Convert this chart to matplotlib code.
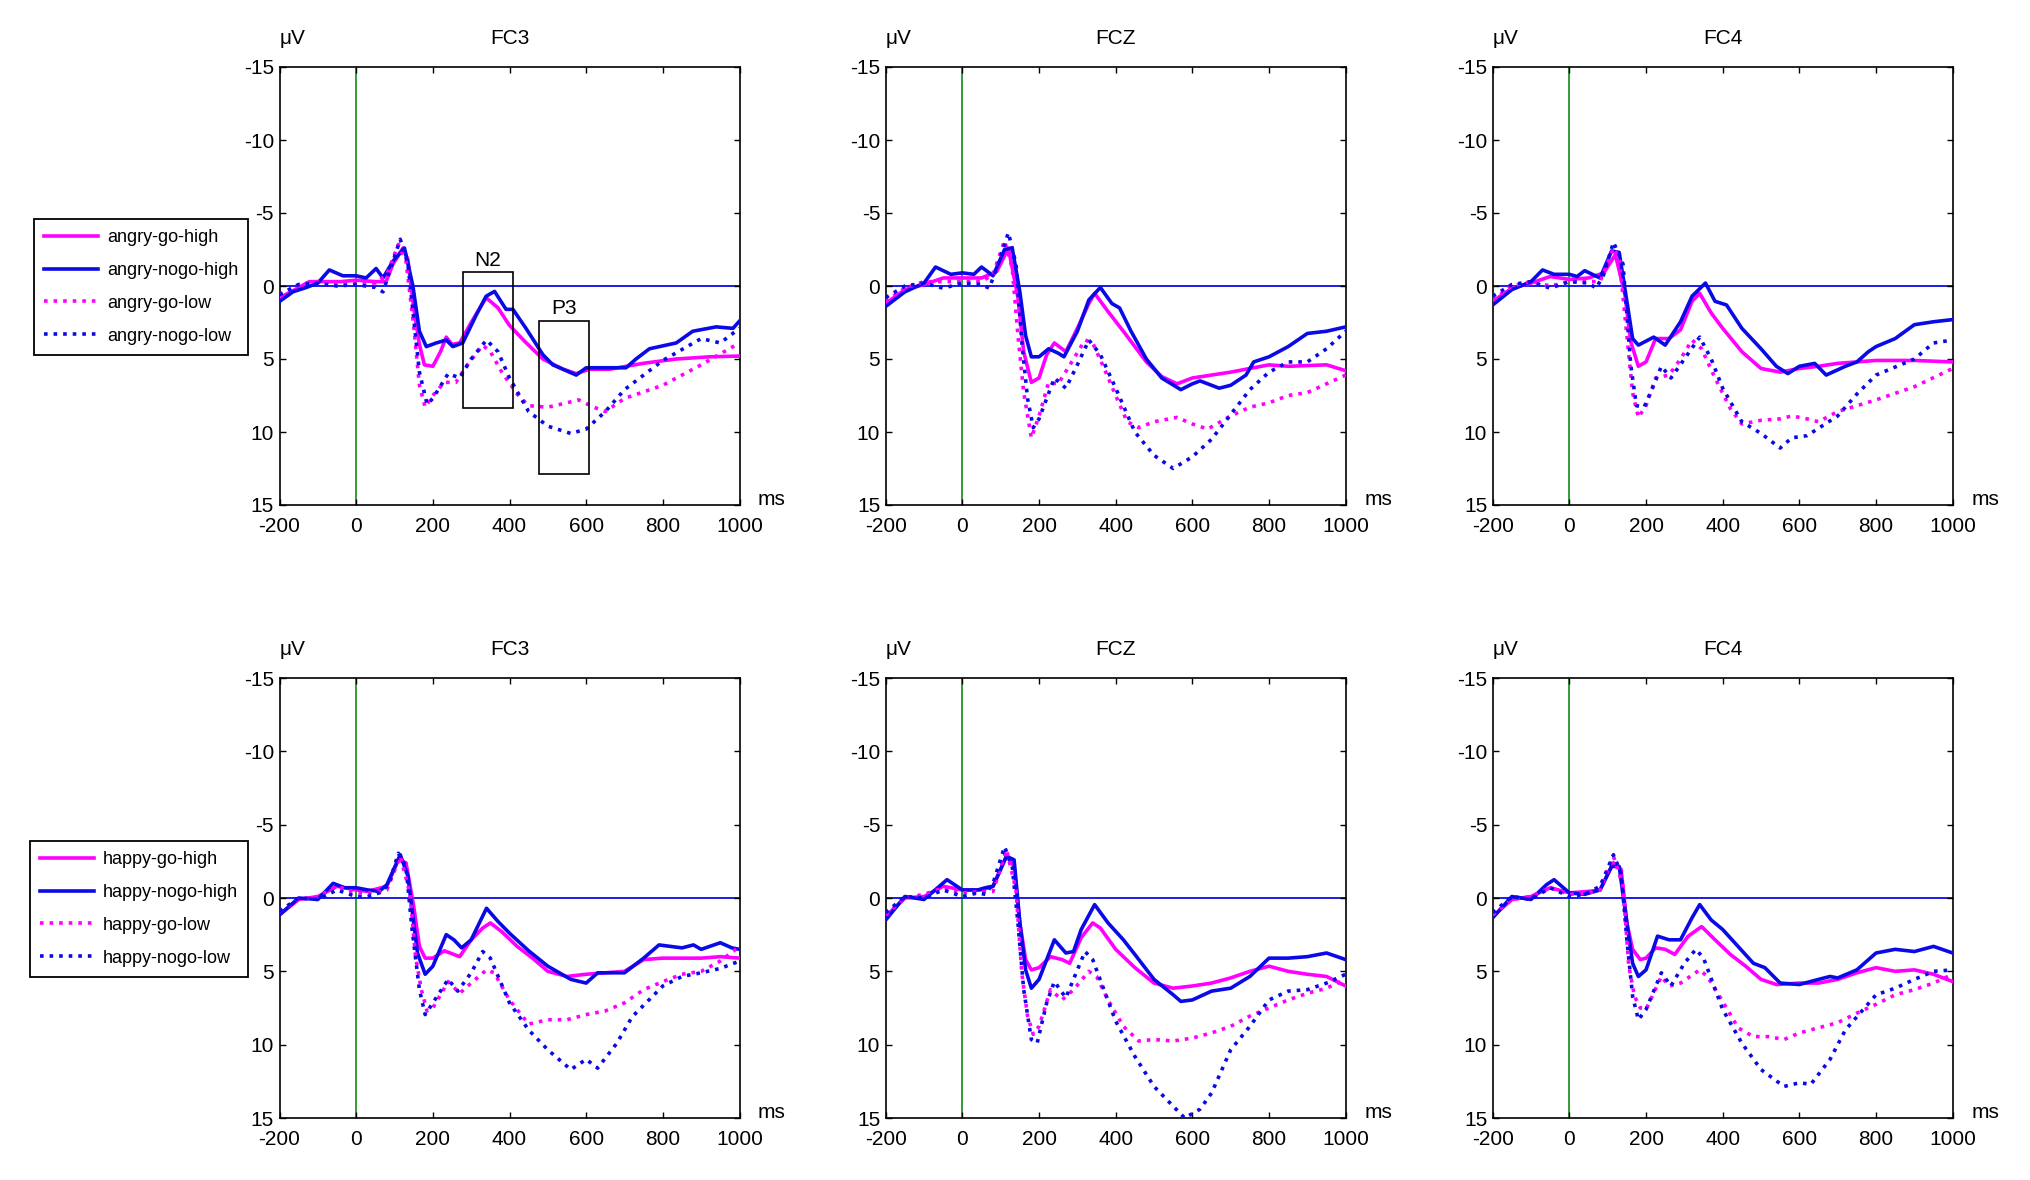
import matplotlib
matplotlib.use("Agg")
import matplotlib.pyplot as plt
from matplotlib.patches import Rectangle

plt.rcParams['font.family'] = ['Liberation Sans', 'DejaVu Sans']
plt.rcParams['axes.unicode_minus'] = False

# ---------------- data (time ms, amplitude uV) ----------------
A_FC3_GO_HIGH = [(-200,0.8),(-170,0.4),(-122,-0.3),(-80,-0.3),(-40,-0.3),(0,-0.4),(50,-0.3),(78,-0.3),(96,-1.5),(122,-2.6),(135,-1.8),(150,1.5),(165,4.0),(178,5.4),(200,5.5),(220,4.5),(235,3.5),(250,4.0),(270,3.9),(300,2.5),(339,0.8),(370,1.5),(400,2.7),(440,3.8),(487,5.0),(540,5.7),(574,6.0),(609,5.7),(661,5.7),(748,5.3),(835,5.0),(922,4.85),(1000,4.8)]
A_FC3_NOGO_HIGH = [(-200,1.06),(-165,0.4),(-130,0.1),(-100,-0.2),(-70,-1.1),(-35,-0.7),(0,-0.7),(26,-0.55),(52,-1.2),(70,-0.55),(96,-1.7),(126,-2.6),(148,0.0),(165,3.1),(183,4.15),(209,3.9),(235,3.7),(252,4.15),(278,3.9),(313,2.0),(339,0.7),(361,0.37),(391,1.6),(409,1.6),(443,2.9),(487,4.7),(513,5.4),(548,5.8),(574,6.1),(600,5.6),(704,5.6),(730,5.0),(765,4.3),(835,3.9),(878,3.1),(939,2.8),(983,2.9),(1000,2.4)]
A_FC3_GO_LOW = [(-200,0.6),(-150,-0.1),(-100,-0.3),(-50,-0.1),(0,-0.2),(50,-0.2),(80,-0.8),(110,-2.85),(130,-1.7),(150,2.7),(165,6.8),(180,8.3),(200,7.5),(230,6.6),(260,6.6),(290,5.4),(330,4.05),(350,4.5),(380,5.9),(420,7.4),(450,8.2),(500,8.3),(550,8.0),(580,7.8),(620,8.3),(650,8.6),(700,7.7),(800,6.8),(900,5.4),(1000,3.9)]
A_FC3_NOGO_LOW = [(-200,0.6),(-150,-0.1),(-100,-0.2),(-50,0.0),(0,-0.1),(50,0.1),(70,0.4),(90,-1.2),(115,-3.2),(135,-1.5),(150,2.2),(165,5.9),(185,8.1),(200,7.7),(240,6.0),(270,6.3),(300,5.0),(340,3.7),(370,4.5),(400,6.3),(450,8.6),(500,9.6),(560,10.1),(600,9.8),(650,8.6),(700,7.1),(800,5.1),(900,3.6),(950,3.9),(1000,2.9)]

A_FCZ_GO_HIGH = [(-200,1.2),(-150,0.25),(-100,-0.1),(-50,-0.55),(0,-0.55),(50,-0.55),(90,-1.0),(120,-2.6),(145,0.8),(160,4.5),(180,6.6),(200,6.3),(220,4.7),(240,3.9),(270,4.5),(300,2.9),(330,1.2),(345,0.5),(380,1.75),(420,3.1),(480,5.2),(520,6.2),(560,6.7),(600,6.3),(650,6.1),(700,5.9),(750,5.65),(800,5.4),(850,5.5),(950,5.4),(1000,5.8)]
A_FCZ_NOGO_HIGH = [(-200,1.4),(-150,0.4),(-100,-0.2),(-70,-1.3),(-30,-0.8),(0,-0.9),(30,-0.8),(50,-1.3),(80,-0.7),(110,-2.5),(130,-2.6),(150,0.4),(165,3.4),(180,4.85),(200,4.85),(225,4.3),(250,4.6),(265,4.85),(300,3.1),(330,0.95),(360,0.1),(390,1.2),(410,1.5),(440,3.1),(480,5.0),(520,6.3),(570,7.1),(600,6.7),(620,6.5),(670,7.0),(700,6.8),(740,6.1),(760,5.2),(800,4.85),(850,4.15),(900,3.25),(950,3.1),(1000,2.8)]
A_FCZ_GO_LOW = [(-200,1.05),(-150,0.15),(-100,-0.3),(-50,-0.3),(0,-0.3),(50,-0.3),(80,-0.8),(110,-3.1),(130,-1.25),(145,3.4),(160,7.3),(180,10.4),(200,8.9),(225,6.6),(250,6.7),(290,5.0),(320,3.7),(340,3.9),(370,5.65),(400,7.5),(430,9.3),(460,9.7),(500,9.3),(560,9.0),(600,9.45),(640,9.8),(700,8.9),(750,8.3),(800,8.0),(850,7.5),(900,7.3),(1000,6.1)]
A_FCZ_NOGO_LOW = [(-200,0.8),(-150,0.0),(-100,-0.2),(-50,0.15),(0,-0.2),(50,-0.1),(70,0.15),(90,-1.25),(120,-3.65),(140,-1.5),(155,3.8),(170,7.7),(185,9.7),(200,9.1),(240,6.3),(270,7.0),(300,5.4),(330,3.7),(360,4.7),(400,7.0),(450,10.0),(500,11.6),(550,12.5),(600,11.7),(650,10.5),(700,8.8),(750,7.1),(800,5.9),(850,5.2),(900,5.2),(950,4.3),(1000,3.1)]

A_FC4_GO_HIGH = [(-200,1.05),(-150,0.15),(-100,-0.2),(-50,-0.65),(0,-0.45),(50,-0.55),(90,-0.9),(120,-2.15),(145,0.6),(160,3.8),(180,5.5),(200,5.2),(225,3.6),(260,3.6),(290,3.0),(320,1.05),(340,0.5),(370,1.85),(400,2.9),(450,4.5),(500,5.65),(550,5.9),(600,5.65),(650,5.5),(700,5.3),(800,5.1),(900,5.1),(1000,5.2)]
A_FC4_NOGO_HIGH = [(-200,1.3),(-150,0.25),(-100,-0.3),(-70,-1.1),(-40,-0.8),(0,-0.8),(20,-0.65),(40,-1.05),(80,-0.55),(110,-2.4),(130,-2.3),(150,1.05),(165,3.6),(180,4.05),(220,3.5),(250,4.05),(290,2.45),(320,0.7),(355,-0.2),(380,1.05),(410,1.3),(450,2.9),(500,4.3),(540,5.5),(570,6.0),(600,5.5),(640,5.3),(670,6.1),(720,5.5),(750,5.2),(780,4.5),(800,4.15),(850,3.6),(900,2.65),(950,2.45),(1000,2.3)]
A_FC4_GO_LOW = [(-200,0.95),(-150,0.0),(-100,-0.3),(-50,0.0),(0,-0.3),(50,-0.3),(80,-0.3),(115,-2.6),(130,-1.9),(150,3.4),(165,7.3),(180,9.0),(200,8.2),(225,6.3),(260,6.1),(290,5.0),(320,3.7),(345,4.3),(380,6.3),(420,8.4),(450,9.45),(500,9.2),(550,9.1),(580,8.9),(620,9.1),(650,9.3),(700,8.6),(800,7.8),(900,6.9),(1000,5.65)]
A_FC4_NOGO_LOW = [(-200,0.7),(-150,-0.1),(-100,-0.3),(-50,0.15),(0,-0.3),(50,-0.2),(70,0.15),(90,-0.8),(115,-3.0),(140,-1.5),(160,5.4),(175,8.2),(195,8.3),(220,6.8),(240,5.5),(265,6.3),(300,5.0),(340,3.5),(370,5.0),(400,7.0),(450,9.3),(500,10.1),(550,11.1),(580,10.4),(620,10.25),(700,8.9),(750,7.4),(800,6.1),(900,5.0),(950,3.9),(1000,3.7)]

H_FC3_GO_HIGH = [(-200,1.15),(-150,0.1),(-100,-0.1),(-50,-0.8),(0,-0.55),(30,-0.45),(80,-0.8),(110,-2.6),(130,-2.4),(150,0.55),(165,3.3),(180,4.1),(200,4.1),(230,3.6),(270,4.0),(300,2.85),(330,2.05),(350,1.7),(380,2.3),(420,3.3),(460,4.1),(500,5.0),(550,5.35),(600,5.2),(650,5.1),(700,5.0),(750,4.2),(800,4.1),(900,4.1),(950,4.0),(1000,4.1)]
H_FC3_NOGO_HIGH = [(-200,1.15),(-150,0.0),(-100,0.1),(-60,-1.0),(-30,-0.7),(0,-0.7),(30,-0.55),(60,-0.45),(80,-0.9),(115,-2.95),(135,-1.5),(150,1.7),(160,3.75),(180,5.2),(200,4.65),(235,2.5),(255,2.85),(275,3.4),(300,2.85),(340,0.7),(370,1.6),(400,2.4),(450,3.6),(500,4.65),(560,5.55),(600,5.8),(630,5.1),(700,5.1),(750,4.1),(790,3.2),(850,3.4),(880,3.2),(900,3.5),(950,3.05),(980,3.4),(1000,3.5)]
H_FC3_GO_LOW = [(-200,0.9),(-150,0.1),(-100,-0.1),(-50,-0.8),(0,-0.35),(50,-0.35),(80,-0.55),(115,-2.85),(140,-0.35),(155,4.0),(170,6.25),(185,7.7),(200,7.5),(240,5.7),(270,6.5),(300,5.8),(340,4.9),(360,5.1),(400,6.95),(450,8.6),(500,8.3),(550,8.3),(600,7.95),(650,7.7),(700,7.15),(750,6.25),(800,5.7),(850,5.2),(900,5.0),(950,4.3),(1000,3.3)]
H_FC3_NOGO_LOW = [(-200,0.9),(-150,0.0),(-100,0.1),(-50,-0.55),(0,-0.1),(30,-0.1),(60,-0.35),(85,-0.9),(110,-3.05),(130,-2.15),(145,1.95),(165,6.25),(180,7.95),(200,7.15),(240,5.55),(265,6.35),(300,5.1),(330,3.65),(350,4.1),(400,7.15),(450,9.0),(500,10.35),(560,11.7),(600,11.0),(630,11.6),(680,9.9),(720,8.1),(800,6.0),(850,5.35),(900,5.1),(950,4.8),(1000,4.3)]

H_FCZ_GO_HIGH = [(-200,1.25),(-150,0.0),(-100,-0.1),(-50,-0.8),(0,-0.55),(50,-0.55),(80,-0.8),(115,-2.85),(135,-2.15),(150,1.7),(165,4.2),(180,4.9),(200,4.75),(230,4.0),(260,4.2),(280,4.45),(310,2.7),(340,1.7),(360,2.05),(400,3.5),(450,4.75),(500,5.8),(550,6.15),(600,6.0),(650,5.8),(700,5.45),(750,5.0),(800,4.65),(850,5.0),(900,5.2),(950,5.35),(1000,6.0)]
H_FCZ_NOGO_HIGH = [(-200,1.5),(-150,-0.1),(-100,0.1),(-60,-0.8),(-40,-1.25),(0,-0.55),(40,-0.55),(60,-0.7),(80,-0.8),(115,-2.85),(135,-2.6),(150,1.7),(165,4.9),(180,6.15),(200,5.55),(240,2.85),(270,3.75),(290,3.65),(310,2.15),(345,0.45),(380,1.7),(420,2.85),(450,3.85),(500,5.55),(550,6.6),(570,7.05),(600,6.95),(650,6.35),(700,6.15),(750,5.35),(800,4.1),(850,4.1),(900,4.0),(950,3.75),(1000,4.2)]
H_FCZ_GO_LOW = [(-200,1.15),(-150,0.0),(-100,-0.25),(-50,-0.7),(0,-0.35),(50,-0.45),(80,-0.45),(115,-3.3),(140,-0.55),(155,5.1),(170,8.05),(185,9.3),(200,8.75),(230,6.25),(260,6.95),(290,6.25),(330,5.0),(350,5.35),(380,6.95),(420,8.75),(460,9.75),(500,9.65),(550,9.75),(600,9.55),(650,9.2),(700,8.75),(750,8.05),(800,7.5),(850,6.95),(900,6.5),(950,6.15),(1000,5.55)]
H_FCZ_NOGO_LOW = [(-200,1.0),(-150,-0.1),(-100,0.0),(-50,-0.55),(0,-0.1),(40,-0.35),(60,-0.25),(80,-1.0),(110,-3.5),(130,-2.15),(145,1.7),(160,6.25),(180,9.65),(195,9.9),(220,7.15),(240,5.7),(270,6.8),(300,4.9),(320,3.65),(340,4.2),(400,8.4),(450,10.8),(500,12.85),(550,14.2),(580,15.0),(620,14.4),(650,13.3),(700,10.35),(750,8.75),(800,6.95),(850,6.35),(900,6.25),(950,5.8),(1000,5.2)]

H_FC4_GO_HIGH = [(-200,1.25),(-150,0.1),(-100,-0.1),(-50,-0.7),(0,-0.35),(50,-0.45),(80,-0.55),(115,-2.4),(135,-1.95),(150,1.7),(165,3.5),(185,4.2),(200,4.1),(225,3.4),(250,3.5),(275,3.85),(310,2.6),(345,1.95),(380,2.85),(420,3.85),(460,4.65),(500,5.55),(540,5.9),(600,5.8),(650,5.8),(700,5.55),(750,5.1),(800,4.75),(850,5.0),(900,4.9),(950,5.2),(1000,5.7)]
H_FC4_NOGO_HIGH = [(-200,1.35),(-150,-0.1),(-100,0.1),(-60,-0.9),(-40,-1.25),(0,-0.35),(40,-0.25),(80,-0.55),(110,-2.15),(130,-2.15),(150,1.7),(165,4.45),(180,5.35),(200,4.9),(230,2.6),(260,2.85),(290,2.85),(320,1.35),(340,0.45),(370,1.5),(400,2.15),(440,3.3),(480,4.45),(510,4.75),(550,5.8),(600,5.9),(650,5.55),(680,5.35),(700,5.45),(750,4.9),(800,3.75),(850,3.5),(900,3.65),(950,3.3),(1000,3.75)]
H_FC4_GO_LOW = [(-200,1.15),(-150,0.1),(-100,-0.1),(-50,-0.7),(0,-0.25),(50,-0.35),(80,-0.55),(115,-2.85),(140,-0.8),(155,4.65),(170,6.7),(185,7.5),(200,7.6),(240,5.35),(260,6.0),(290,5.8),(340,4.9),(360,5.35),(400,7.05),(440,8.85),(480,9.45),(520,9.45),(560,9.65),(600,9.2),(650,8.85),(700,8.5),(750,7.85),(800,7.25),(850,6.6),(900,6.25),(950,5.8),(1000,5.2)]
H_FC4_NOGO_LOW = [(-200,1.0),(-150,-0.1),(-100,0.1),(-50,-0.7),(0,-0.1),(40,-0.25),(80,-0.8),(115,-2.95),(135,-1.7),(150,2.85),(165,6.7),(180,8.3),(200,7.6),(240,5.1),(265,6.0),(300,4.45),(330,3.5),(350,4.1),(400,7.6),(450,9.9),(500,11.7),(560,12.85),(600,12.6),(630,12.7),(680,11.0),(720,9.0),(800,6.6),(850,6.15),(900,5.55),(950,5.0),(1000,4.9)]

CHANNELS = ["FC3", "FCZ", "FC4"]
ANGRY_LABELS = ["angry-go-high", "angry-nogo-high", "angry-go-low", "angry-nogo-low"]
HAPPY_LABELS = ["happy-go-high", "happy-nogo-high", "happy-go-low", "happy-nogo-low"]
ANGRY_SERIES = [
    [A_FC3_GO_HIGH, A_FC3_NOGO_HIGH, A_FC3_GO_LOW, A_FC3_NOGO_LOW],
    [A_FCZ_GO_HIGH, A_FCZ_NOGO_HIGH, A_FCZ_GO_LOW, A_FCZ_NOGO_LOW],
    [A_FC4_GO_HIGH, A_FC4_NOGO_HIGH, A_FC4_GO_LOW, A_FC4_NOGO_LOW],
]
HAPPY_SERIES = [
    [H_FC3_GO_HIGH, H_FC3_NOGO_HIGH, H_FC3_GO_LOW, H_FC3_NOGO_LOW],
    [H_FCZ_GO_HIGH, H_FCZ_NOGO_HIGH, H_FCZ_GO_LOW, H_FCZ_NOGO_LOW],
    [H_FC4_GO_HIGH, H_FC4_NOGO_HIGH, H_FC4_GO_LOW, H_FC4_NOGO_LOW],
]
X_TICKS = [-200, 0, 200, 400, 600, 800, 1000]
Y_TICKS = [-15, -10, -5, 0, 5, 10, 15]
# analysis windows (ms, uV) drawn on the FC3 angry panel
N2_WINDOW = (278, 409, -0.97, 8.37)
P3_WINDOW = (476, 607, 2.37, 12.9)

# ---------------- styling ----------------
MAGENTA = '#FF00FF'
BLUE = '#0A0AE6'
STYLES = [(MAGENTA, '-'), (BLUE, '-'), (MAGENTA, ':'), (BLUE, ':')]
FS = 15
LEG_FS = 13

W, H = 2031, 1180
fig = plt.figure(figsize=(W / 100, H / 100), dpi=100)

lefts = [279.5, 885.7, 1492.7]
ax_w = 460
rows = [(67, 505), (678, 1118)]


def make_axes(px_left, px_top, px_bottom):
    return fig.add_axes([px_left / W, 1 - px_bottom / H, ax_w / W, (px_bottom - px_top) / H])


row_axes = []
for r, (top, bot) in enumerate(rows):
    series_set = ANGRY_SERIES if r == 0 else HAPPY_SERIES
    labels = ANGRY_LABELS if r == 0 else HAPPY_LABELS
    axes_row = []
    for c, ch in enumerate(CHANNELS):
        ax = make_axes(lefts[c], top, bot)
        ax.axvline(0, color='#008000', lw=1.1, zorder=1)
        ax.axhline(0, color=BLUE, lw=1.3, zorder=1)
        handles = []
        for s, (col, ls) in zip(series_set[c], STYLES):
            t = [p[0] for p in s]
            v = [p[1] for p in s]
            ln, = ax.plot(t, v, color=col, ls=ls, lw=2.6, zorder=3)
            handles.append(ln)
        ax.set_xlim(-200, 1000)
        ax.set_ylim(15, -15)
        ax.set_xticks(X_TICKS)
        ax.set_yticks(Y_TICKS)
        ax.set_xticklabels([str(x) for x in X_TICKS])
        ax.set_yticklabels([str(y) for y in Y_TICKS])
        ax.tick_params(direction='in', top=True, right=True, length=4.5, width=1.0,
                       labelsize=FS)
        ax.tick_params(axis='x', pad=8.5)
        ax.tick_params(axis='y', pad=4)
        for sp in ax.spines.values():
            sp.set_linewidth(1.2)
        ax.text(0.0, 1.064, "\u03bcV", transform=ax.transAxes, ha='left', va='center', fontsize=FS)
        ax.text(0.5, 1.064, ch, transform=ax.transAxes, ha='center', va='center', fontsize=FS)
        ax.text(1.04, 0.012, "ms", transform=ax.transAxes, ha='left', va='center', fontsize=FS)
        axes_row.append((ax, handles))
    row_axes.append(axes_row)

    # legend
    leg_top = 219 if r == 0 else 841
    leg_left = 34 if r == 0 else 30
    fig.legend(axes_row[0][1], labels, loc='upper left',
               bbox_to_anchor=(leg_left / W, 1 - leg_top / H), bbox_transform=fig.transFigure,
               borderaxespad=0, fontsize=LEG_FS, frameon=True, fancybox=False,
               edgecolor='black', framealpha=1, handlelength=3.0, handletextpad=0.5,
               labelspacing=0.88, borderpad=0.55)

for lg in fig.legends:
    lg.get_frame().set_linewidth(1.3)

# analysis windows on the FC3 angry panel
ax0 = row_axes[0][0][0]
for (x0, x1, y0, y1), name in [(N2_WINDOW, "N2"), (P3_WINDOW, "P3")]:
    ax0.add_patch(Rectangle((x0, y0), x1 - x0, y1 - y0, fill=False, edgecolor='black', lw=1.2, zorder=4))
    ax0.text((x0 + x1) / 2, y0 - 0.15, name, ha='center', va='bottom', fontsize=FS, zorder=5)

fig.savefig("out.png", dpi=100)
